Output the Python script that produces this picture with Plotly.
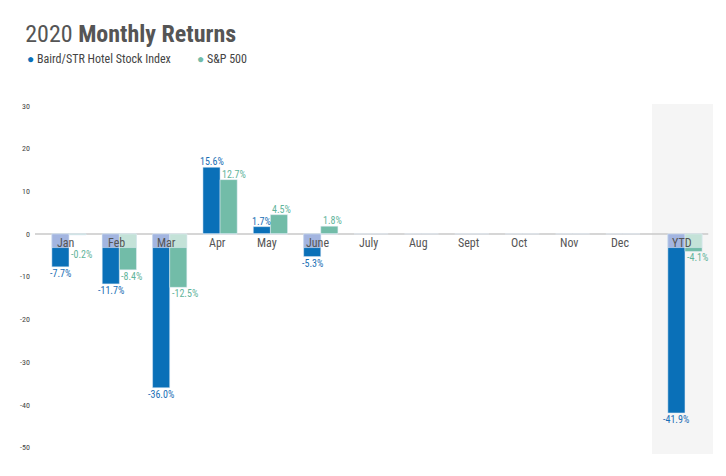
import plotly.graph_objects as go

# data
months = ['Jan', 'Feb', 'Mar', 'Apr', 'May', 'June', 'July', 'Aug', 'Sept', 'Oct', 'Nov', 'Dec']
baird = [-7.7, -11.7, -36.0, 15.6, 1.7, -5.3, None, None, None, None, None, None]
sp500 = [-0.2, -8.4, -12.5, 12.7, 4.5, 1.8, None, None, None, None, None, None]
ytd_cat = ['YTD']
baird_ytd = [-41.9]
sp500_ytd = [-4.1]
yticks = [30, 20, 10, 0, -10, -20, -30, -40, -50]

BLUE = '#0a70b8'
GREEN = '#72bca8'
BLUE_LIGHT = '#a3b5e0'
GREEN_LIGHT = '#c4e2d8'
BLUE_TXT = '#1a6fb5'
GREEN_TXT = '#5fb49b'
FONT = 'Roboto Condensed, Liberation Sans Narrow, Roboto, sans-serif'
BAND = 3.2  # depth of the label band under the zero line


def band(vals):
    # part of each negative bar that sits in the label band
    return [max(v, -BAND) if (v is not None and v < 0) else 0 for v in vals]


fig = go.Figure()

groups = [
    (months, baird, sp500, 'x'),
    (ytd_cat, baird_ytd, sp500_ytd, 'x2'),
]
for cats, b, s, xa in groups:
    fig.add_trace(go.Bar(x=cats, y=b, marker_color=BLUE, offsetgroup='a',
                         xaxis=xa, hoverinfo='skip', showlegend=False))
    fig.add_trace(go.Bar(x=cats, y=s, marker_color=GREEN, offsetgroup='b',
                         xaxis=xa, hoverinfo='skip', showlegend=False))
    fig.add_trace(go.Bar(x=cats, y=band(b), marker_color=BLUE_LIGHT, offsetgroup='a',
                         xaxis=xa, hoverinfo='skip', showlegend=False))
    fig.add_trace(go.Bar(x=cats, y=band(s), marker_color=GREEN_LIGHT, offsetgroup='b',
                         xaxis=xa, hoverinfo='skip', showlegend=False))

    # category labels just under the zero line
    for c in cats:
        fig.add_annotation(x=c, y=0, xref=xa, yref='y', text=c, showarrow=False,
                           yanchor='top', yshift=0, xshift=-3,
                           font=dict(family=FONT, size=12, color='#555555'))

    # value labels: blue centred on its bar, green starting at its bar's left edge
    for vals, anchor, shift, col in [(b, 'center', -8.5, BLUE_TXT), (s, 'left', 0, GREEN_TXT)]:
        for c, v in zip(cats, vals):
            if v is None:
                continue
            if v >= 0:
                fig.add_annotation(x=c, y=v, xref=xa, yref='y', text=f'{v:.1f}%',
                                   showarrow=False, xanchor=anchor, yanchor='bottom',
                                   xshift=shift, yshift=-2,
                                   font=dict(family=FONT, size=10, color=col))
            else:
                fig.add_annotation(x=c, y=min(v, -BAND), xref=xa, yref='y', text=f'{v:.1f}%',
                                   showarrow=False, xanchor=anchor, yanchor='top',
                                   xshift=shift, yshift=1,
                                   font=dict(family=FONT, size=10, color=col))

# grey background behind YTD
fig.add_shape(type='rect', xref='paper', yref='paper', x0=0.91, x1=1, y0=0, y1=1,
              fillcolor='#f5f5f5', line_width=0, layer='below')
# zero line
fig.add_shape(type='line', xref='paper', yref='y', x0=0, x1=0.993, y0=0, y1=0,
              line=dict(color='#c8c8c8', width=1.5), layer='below')

# legend
fig.add_annotation(xref='paper', yref='paper', x=-0.015, y=1.129, xanchor='left',
                   yanchor='middle', showarrow=False,
                   text=f"<span style='color:{BLUE}'>●</span> Baird/STR Hotel Stock Index",
                   font=dict(family=FONT, size=12, color='#444444'))
fig.add_annotation(xref='paper', yref='paper', x=0.236, y=1.129, xanchor='left',
                   yanchor='middle', showarrow=False,
                   text=f"<span style='color:{GREEN}'>●</span> S&P 500",
                   font=dict(family=FONT, size=12, color='#444444'))

# page has an 8px body margin, so the figure is 8px smaller than the window
fig.update_layout(
    width=718,
    height=468,
    margin=dict(l=27, r=13, t=96, b=22),
    paper_bgcolor='white',
    plot_bgcolor='rgba(0,0,0,0)',
    barmode='group',
    bargap=0.32,
    bargroupgap=0,
    showlegend=False,
    title=dict(text='2020 <b>Monthly Returns</b>', xref='container', yref='container',
               x=0.024, y=0.964, xanchor='left', yanchor='top',
               font=dict(family=FONT, size=24, color='#555555')),
    xaxis=dict(domain=[0, 0.91], range=[-0.675, 11.577], showticklabels=False,
               showgrid=False, zeroline=False, showline=False, fixedrange=True),
    xaxis2=dict(domain=[0.91, 1], range=[-0.655, 0.556], anchor='y', showticklabels=False,
                showgrid=False, zeroline=False, showline=False, fixedrange=True),
    yaxis=dict(range=[-51.5, 30.4], tickvals=yticks, ticktext=[str(t) for t in yticks],
               showgrid=False, zeroline=False, showline=False, ticks='',
               tickfont=dict(family=FONT, size=8, color='#444444'), ticklabelstandoff=4,
               fixedrange=True),
)

fig.write_html("out.html")
